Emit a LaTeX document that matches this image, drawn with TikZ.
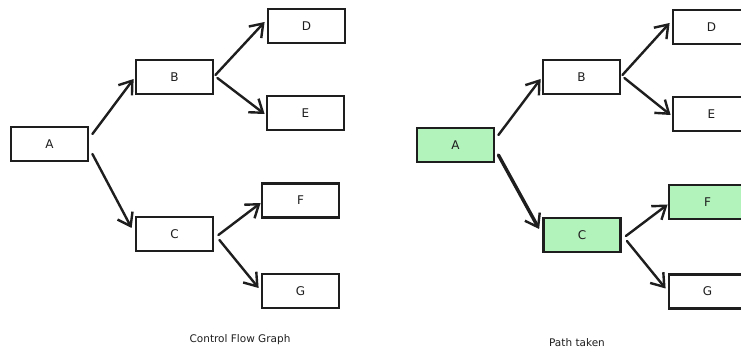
\documentclass[tikz,border=0pt]{standalone}
\usepackage{fontspec}
\setmainfont{DejaVu Sans}
\usetikzlibrary{arrows.meta,calc}
\definecolor{ink}{HTML}{1E1E1E}
\definecolor{taken}{HTML}{B2F2BB}
\tikzset{
  blockbox/.style={draw=ink, line width=2.8pt, minimum width=77pt, minimum height=34pt,
    inner sep=0pt, font=\fontsize{12}{14}\selectfont, text=ink},
  hit/.style={fill=taken},
  flow/.style={draw=ink, line width=2.4pt, line cap=round,
    -{Straight Barb[length=12pt,width=17pt,line width=2.4pt]}},
  boldflow/.style={flow, line width=3.4pt},
  caption/.style={font=\fontsize{10.5}{12}\selectfont, text=ink},
}
\begin{document}
\begin{tikzpicture}[x=1pt,y=-1pt]
\clip (0,0) rectangle (741,352);
\fill[white] (0,0) rectangle (741,352);

% control flow graph
\node[blockbox] (A) at (49.5,144) {A};
\node[blockbox] (B) at (174.5,77) {B};
\node[blockbox] (D) at (306.5,26) {D};
\node[blockbox] (E) at (305.5,113) {E};
\node[blockbox] (C) at (174.5,234) {C};
\node[blockbox] (F) at (300.5,200.5) {F};
\node[blockbox] (G) at (300.5,291) {G};

\draw[flow] ($(A.east)+(3,-10)$) -- ($(B.west)+(-1,2)$);
\draw[flow] ($(A.east)+(3,10)$) -- ($(C.west)+(-3,-6)$);
\draw[flow] ($(B.east)+(1,-2)$) -- ($(D.west)+(-2,-4)$);
\draw[flow] ($(B.east)+(3,1)$) -- ($(E.west)+(-1,1)$);
\draw[flow] ($(C.east)+(4,1)$) -- ($(F.west)+(0,2.5)$);
\draw[flow] ($(C.east)+(5,6)$) -- ($(G.west)+(-2,-3)$);

\node[caption] (cfg) at (240,340) {Control Flow Graph};

% path taken through the graph
\node[blockbox,hit] (A2) at (455.5,145) {A};
\node[blockbox] (B2) at (581.5,77) {B};
\node[blockbox] (D2) at (711.5,27) {D};
\node[blockbox] (E2) at (711.5,114) {E};
\node[blockbox,hit] (C2) at (582,235) {C};
\node[blockbox,hit] (F2) at (707.5,202) {F};
\node[blockbox] (G2) at (707.5,291.5) {G};

\draw[flow] ($(A2.east)+(3,-10)$) -- ($(B2.west)+(-1,2)$);
\draw[boldflow] ($(A2.east)+(3,10)$) -- ($(C2.west)+(-3,-6)$);
\draw[flow] ($(B2.east)+(1,-2)$) -- ($(D2.west)+(-2,-4)$);
\draw[flow] ($(B2.east)+(3,1)$) -- ($(E2.west)+(-1,1)$);
\draw[flow] ($(C2.east)+(4,1)$) -- ($(F2.west)+(0,2.5)$);
\draw[flow] ($(C2.east)+(5,6)$) -- ($(G2.west)+(-2,-3)$);

\node[caption] (path) at (577,343) {Path taken};
\end{tikzpicture}
\end{document}
